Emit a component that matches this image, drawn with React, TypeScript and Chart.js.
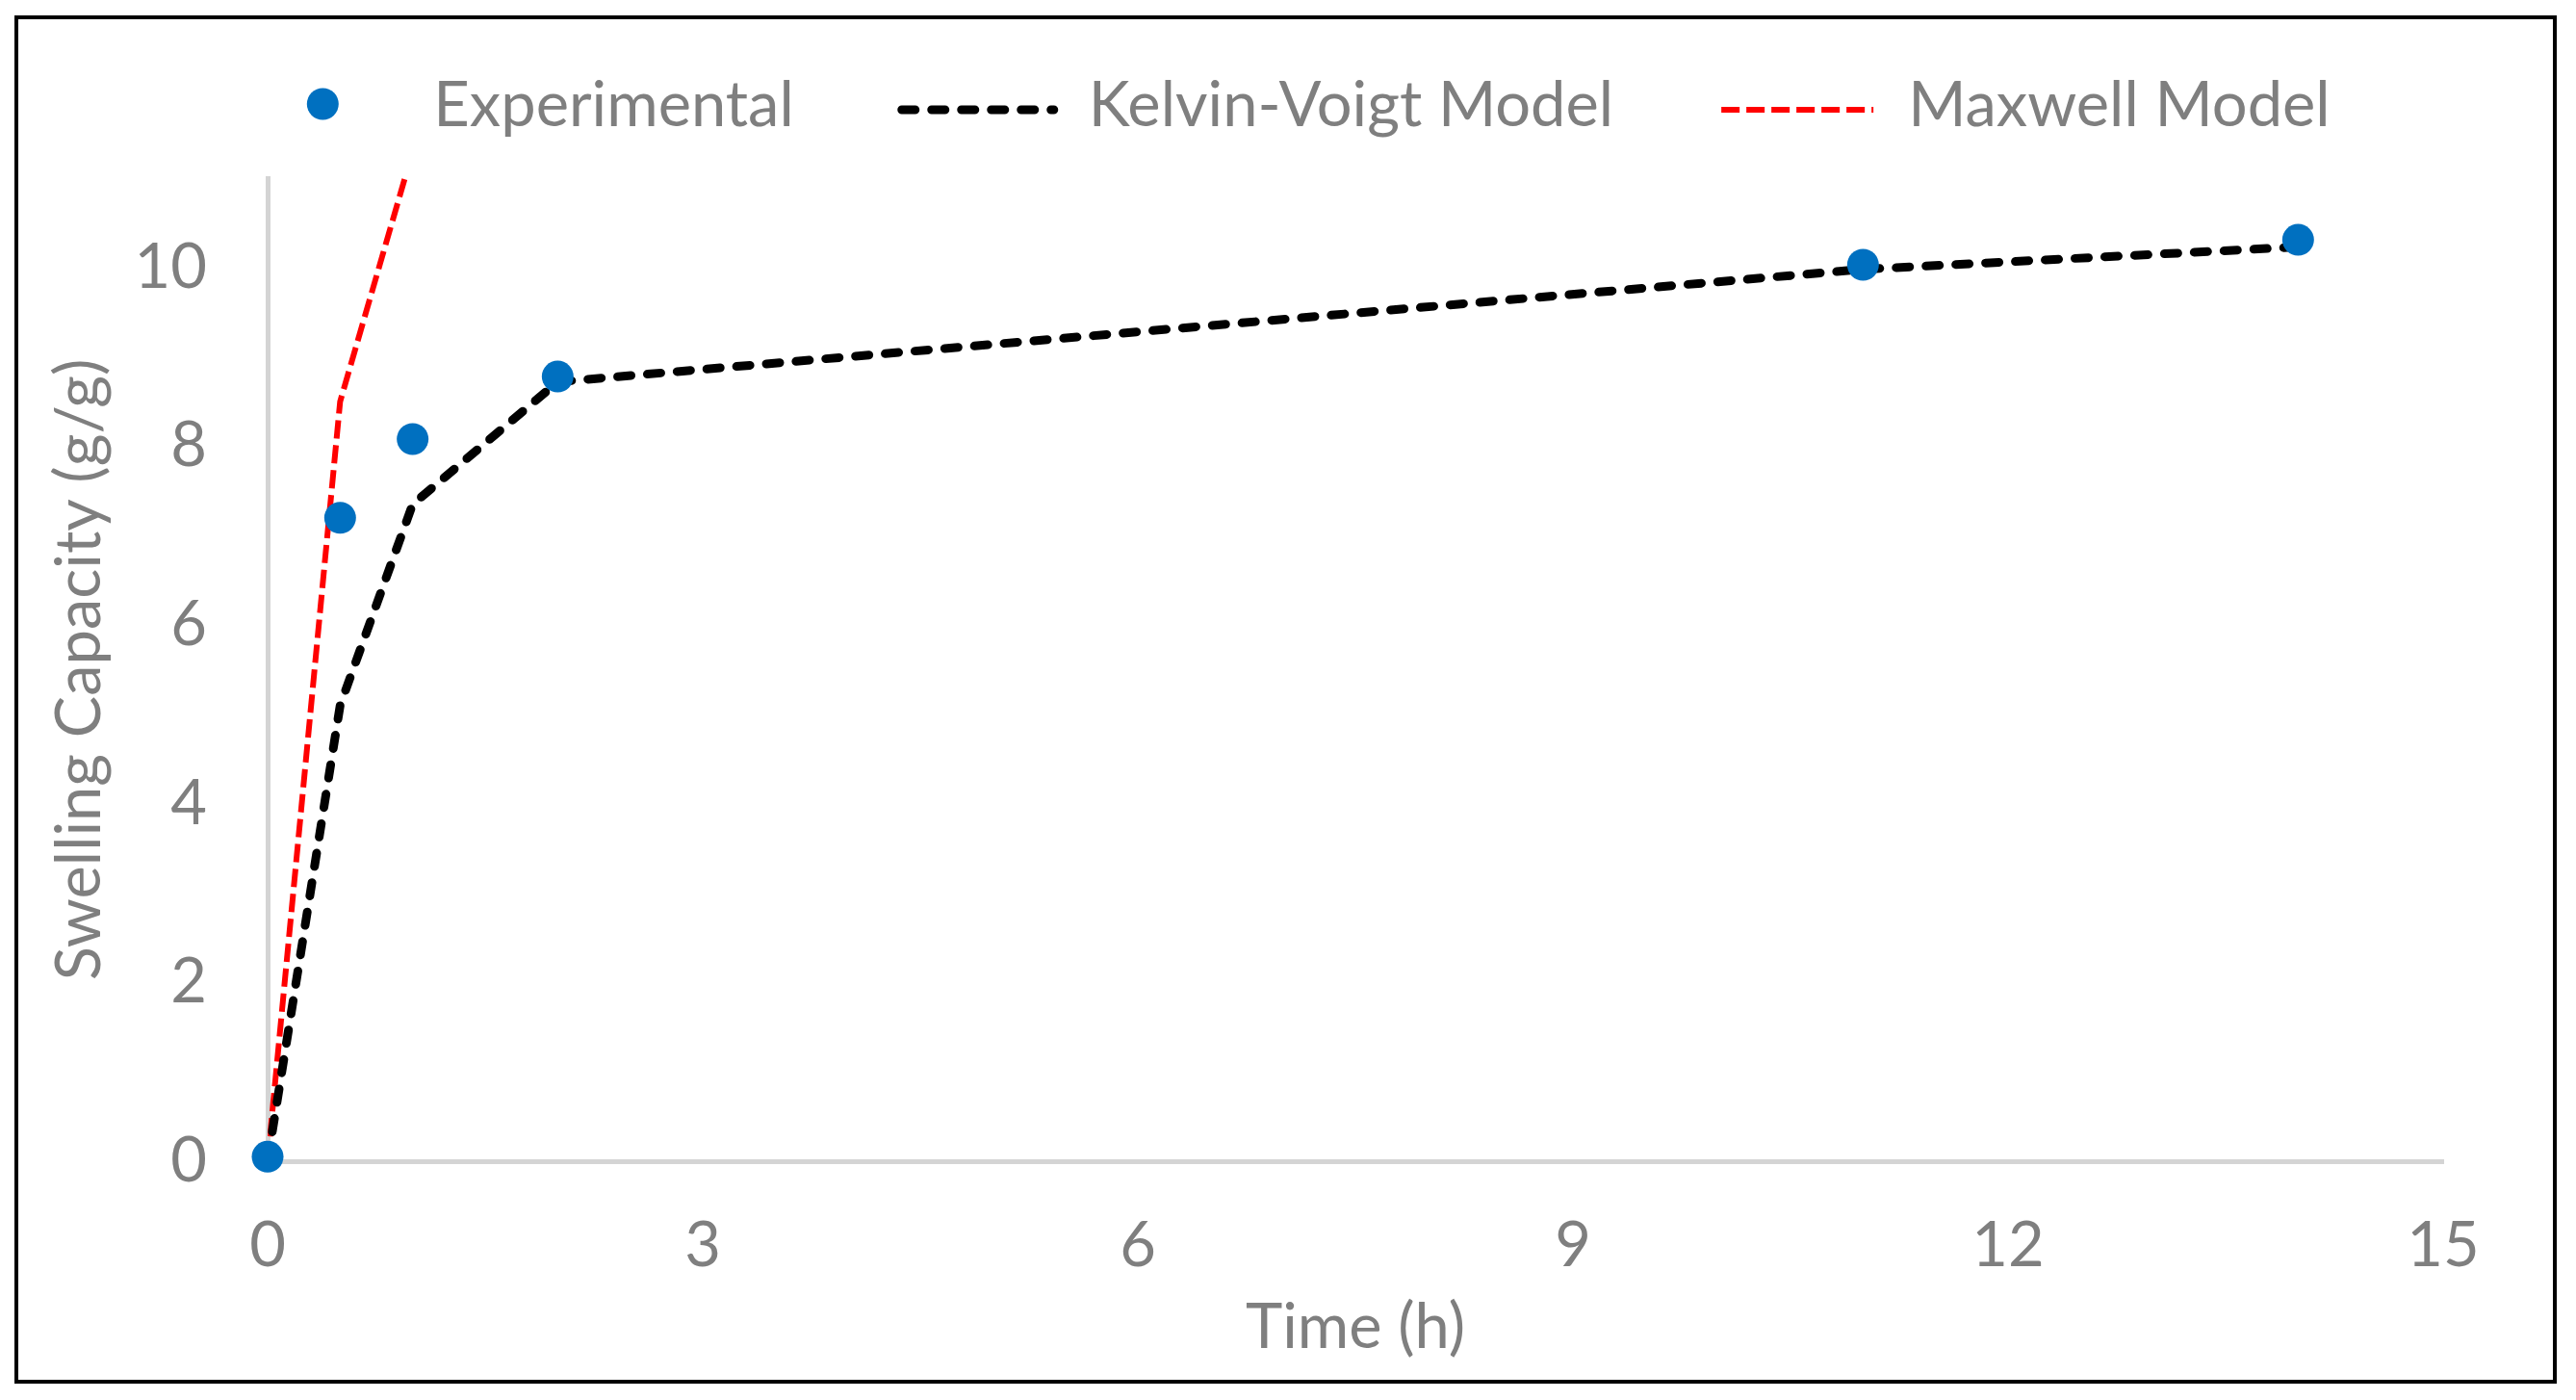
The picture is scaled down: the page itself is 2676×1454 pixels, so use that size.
import React, { useEffect, useRef } from "react";
import { Chart, registerables } from "chart.js";

Chart.register(...registerables);

// ---- data ----
const timeHours = [0, 0.5, 1, 2, 11, 14];
const experimental = [0.05, 7.2, 8.08, 8.78, 10.03, 10.31];
const kelvinVoigt = [0, 5.1, 7.35, 8.72, 9.98, 10.23];
const maxwellTime = [0, 0.5, 1];
const maxwell = [0, 8.5, 11.3];
const xTickValues = [0, 3, 6, 9, 12, 15];
const yTickValues = [0, 2, 4, 6, 8, 10];
const seriesLabels = ["Experimental", "Kelvin-Voigt Model", "Maxwell Model"];
const xTitle = "Time (h)";
const yTitle = "Swelling Capacity (g/g)";

// ---- style ----
const FONT_FAMILY = "Lato, 'Open Sans', sans-serif";
const FONT_SIZE = 65;
const TEXT_COLOR = "#7f7f7f";
const AXIS_COLOR = "#d4d4d4";
const CANVAS_W = 2633;
const CANVAS_H = 1413;

const legendPlugin = {
  id: "excelLegend",
  afterDraw(chart: any) {
    const ctx = chart.ctx as CanvasRenderingContext2D;
    ctx.save();
    ctx.font = `${FONT_SIZE}px ${FONT_FAMILY}`;
    const dsets = chart.data.datasets as any[];
    const widths = dsets.map((ds) => ctx.measureText(ds.label).width);
    const sampleW = 170;
    const textGap = 30;
    const itemGap = 106;
    const total =
      widths.reduce((s: number, w: number) => s + sampleW + textGap + w, 0) +
      itemGap * (dsets.length - 1);
    let x = chart.width / 2 - total / 2;
    const markerY = 88;
    const lineY = 94;
    const baseY = 111;
    dsets.forEach((ds, i) => {
      if (ds.showLine === false) {
        ctx.beginPath();
        ctx.fillStyle = ds.backgroundColor;
        ctx.arc(x + sampleW / 2, markerY, ds.pointRadius, 0, Math.PI * 2);
        ctx.fill();
      } else {
        ctx.beginPath();
        ctx.strokeStyle = ds.borderColor;
        ctx.lineWidth = ds.borderWidth;
        ctx.lineCap = ds.borderCapStyle;
        ctx.setLineDash(ds.borderDash);
        ctx.moveTo(x + 6, lineY);
        ctx.lineTo(x + sampleW - 6, lineY);
        ctx.stroke();
        ctx.setLineDash([]);
      }
      ctx.fillStyle = TEXT_COLOR;
      ctx.textBaseline = "alphabetic";
      ctx.textAlign = "left";
      ctx.fillText(ds.label, x + sampleW + textGap, baseY);
      x += sampleW + textGap + widths[i] + itemGap;
    });
    ctx.restore();
  },
};

export default function App() {
  const canvasRef = useRef<HTMLCanvasElement | null>(null);

  useEffect(() => {
    const canvas = canvasRef.current;
    if (!canvas) return;
    const font = { family: FONT_FAMILY, size: FONT_SIZE, lineHeight: 1.2 };
    const chart = new Chart(canvas, {
      type: "line",
      data: {
        datasets: [
          {
            label: seriesLabels[0],
            data: timeHours.map((t, i) => ({ x: t, y: experimental[i] })),
            showLine: false,
            pointRadius: 16.5,
            pointHoverRadius: 16.5,
            backgroundColor: "#0070c0",
            borderColor: "#0070c0",
            pointBorderWidth: 0,
            borderWidth: 0,
            clip: false,
          },
          {
            label: seriesLabels[1],
            data: timeHours.map((t, i) => ({ x: t, y: kelvinVoigt[i] })),
            borderColor: "#000000",
            backgroundColor: "#000000",
            borderWidth: 9,
            borderDash: [14, 17],
            borderCapStyle: "round",
            borderJoinStyle: "round",
            pointRadius: 0,
            tension: 0,
            fill: false,
            clip: 0,
          },
          {
            label: seriesLabels[2],
            data: maxwellTime.map((t, i) => ({ x: t, y: maxwell[i] })),
            borderColor: "#ff0000",
            backgroundColor: "#ff0000",
            borderWidth: 6,
            borderDash: [19, 7],
            borderCapStyle: "butt",
            borderJoinStyle: "round",
            pointRadius: 0,
            tension: 0,
            fill: false,
            clip: 0,
          },
        ] as any,
      },
      options: {
        animation: false,
        responsive: false,
        devicePixelRatio: 1,
        layout: { padding: { top: 165, left: 25, right: 114, bottom: 15 } },
        plugins: {
          legend: { display: false },
          tooltip: { enabled: false },
        },
        scales: {
          x: {
            type: "linear",
            min: 0,
            max: 15,
            afterBuildTicks: (scale: any) => {
              scale.ticks = xTickValues.map((v) => ({ value: v }));
            },
            afterFit: (scale: any) => {
              scale.height = 212;
            },
            grid: { display: false, drawTicks: false },
            border: { display: true, color: AXIS_COLOR, width: 5 },
            ticks: { color: TEXT_COLOR, font, padding: 49, maxRotation: 0 },
            title: {
              display: true,
              text: xTitle,
              color: TEXT_COLOR,
              font,
              padding: { top: 0, bottom: 0 },
            },
          },
          y: {
            type: "linear",
            min: 0,
            max: 11,
            afterBuildTicks: (scale: any) => {
              scale.ticks = yTickValues.map((v) => ({ value: v }));
            },
            afterFit: (scale: any) => {
              scale.width = 234;
            },
            grid: { display: false, drawTicks: false },
            border: { display: true, color: AXIS_COLOR, width: 5 },
            ticks: { color: TEXT_COLOR, font, padding: 63 },
            title: {
              display: true,
              text: yTitle,
              color: TEXT_COLOR,
              font,
              padding: { top: 0, bottom: 0 },
            },
          },
        },
      } as any,
      plugins: [legendPlugin],
    });
    return () => chart.destroy();
  }, []);

  return (
    <div
      style={{
        position: "absolute",
        left: 15,
        top: 16,
        width: CANVAS_W,
        height: CANVAS_H,
        border: "4px solid #000",
        background: "#fff",
      }}
    >
      <canvas
        ref={canvasRef}
        width={CANVAS_W}
        height={CANVAS_H}
        style={{ display: "block", width: CANVAS_W, height: CANVAS_H }}
      />
    </div>
  );
}
